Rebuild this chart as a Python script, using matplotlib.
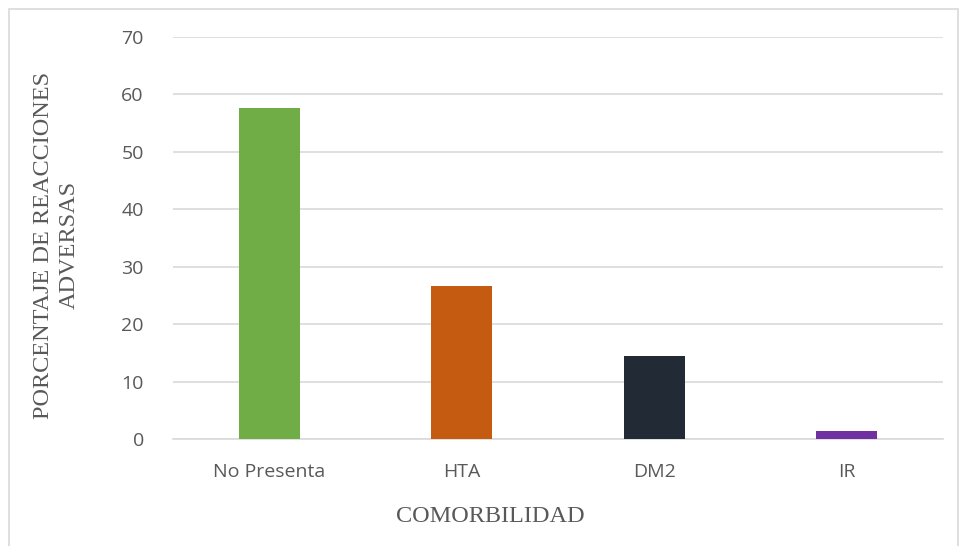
import matplotlib.pyplot as plt
from matplotlib.patches import Rectangle

categories = ["No Presenta", "HTA", "DM2", "IR"]
values = [57.6, 26.6, 14.4, 1.4]
colors = ["#70AD47", "#C55A11", "#222A35", "#7030A0"]
yticks = [0, 10, 20, 30, 40, 50, 60, 70]

fig = plt.figure(figsize=(9.61, 5.46), dpi=100)
ax = fig.add_axes([173 / 961, 1 - 439 / 546, 770 / 961, (439 - 36.6) / 546])

ax.bar(range(len(categories)), values, width=0.317, color=colors, zorder=3)
ax.set_xlim(-0.5, len(categories) - 0.5)
ax.set_ylim(0, 70)
ax.set_yticks(yticks)
ax.set_xticks(range(len(categories)))
ax.set_xticklabels(categories)
ax.grid(axis="y", color="#D9D9D9", linewidth=1.2, zorder=0)
for s in ["top", "right", "left"]:
    ax.spines[s].set_visible(False)
ax.spines["bottom"].set_color("#D9D9D9")
ax.spines["bottom"].set_linewidth(1.2)
ax.tick_params(axis="both", length=0, labelsize=14, labelcolor="#595959")
ax.tick_params(axis="y", pad=21)
ax.tick_params(axis="x", pad=17)
for lbl in ax.get_xticklabels() + ax.get_yticklabels():
    lbl.set_family("Open Sans")

# axis titles
fig.text(490 / 961, 1 - 516 / 546, "COMORBILIDAD", family="Liberation Serif",
         fontsize=17.5, color="#595959", ha="center", va="center")
fig.text(56 / 961, 1 - 245 / 546, "PORCENTAJE DE REACCIONES\nADVERSAS",
         family="Liberation Serif", fontsize=17.5, color="#595959",
         rotation=90, ha="center", va="center", multialignment="center",
         linespacing=1.3)

# chart border
fig.patches.append(Rectangle((8.5 / 961, -0.05), (958 - 8.5) / 961, 1.05 - 9 / 546,
                             transform=fig.transFigure, fill=False,
                             edgecolor="#D9D9D9", linewidth=1.2))

fig.savefig("out.png", dpi=100)
